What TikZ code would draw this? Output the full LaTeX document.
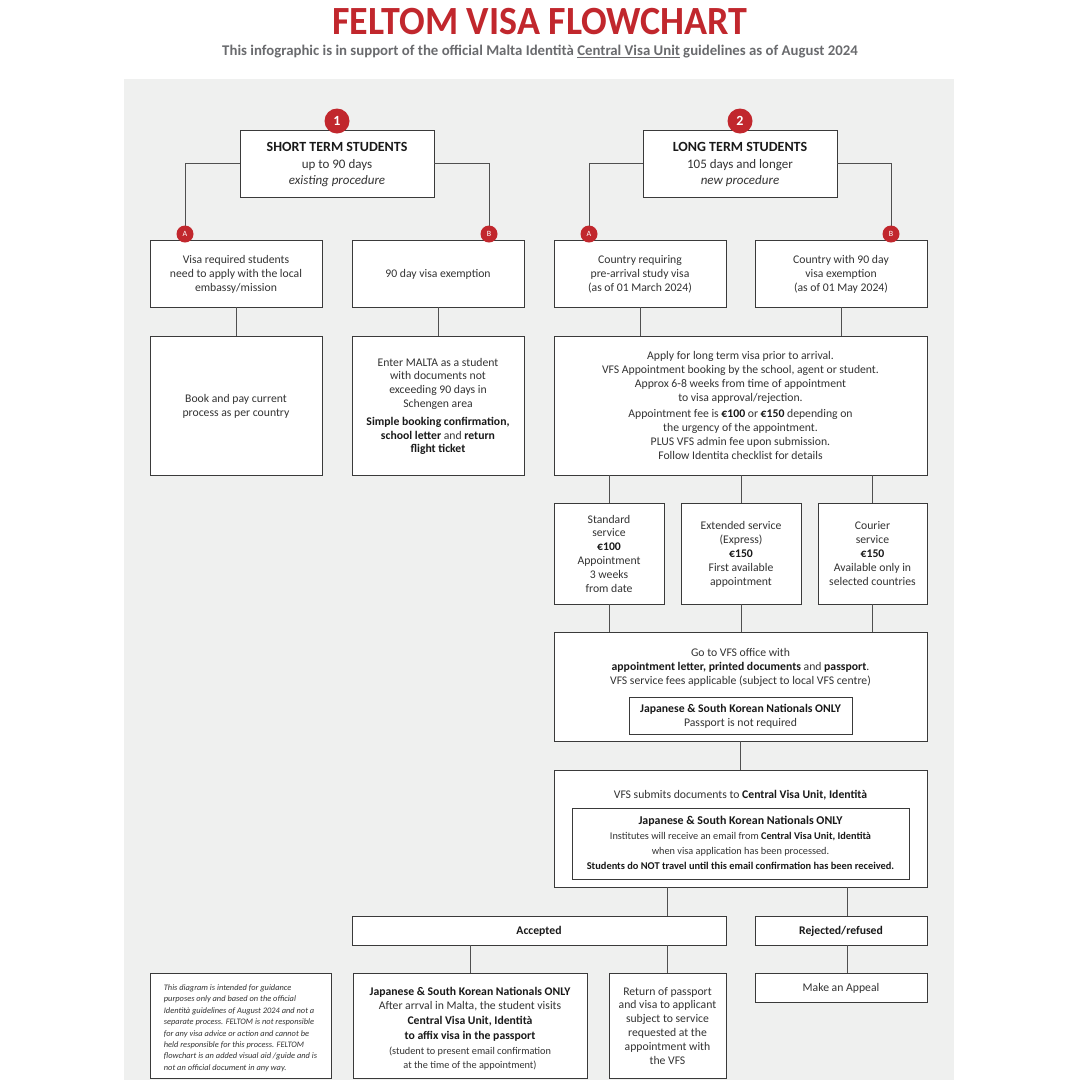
\documentclass[tikz,border=0pt]{standalone}
\usepackage{fontspec}
\usepackage{graphicx}
\setmainfont{Carlito}
\definecolor{fred}{HTML}{C1272D}
\definecolor{panel}{HTML}{EFF0EF}
\definecolor{boxc}{HTML}{3A3A3A}
\definecolor{linec}{HTML}{505050}
\definecolor{txt}{HTML}{333333}
\definecolor{subgrey}{HTML}{6A6B6E}
\begin{document}
\begin{tikzpicture}[x=1pt,y=-1pt,
  box/.style={draw=boxc, fill=white, line width=0.9pt, align=center, inner sep=0pt, text depth=0pt, text=txt, font=\fontsize{11.7}{13.8}\selectfont},
  tnode/.style={align=center, inner sep=0pt, text depth=0pt, text=txt, font=\fontsize{11.7}{13.8}\selectfont},
  conn/.style={draw=linec, line width=0.9pt},
  bigbadge/.style={circle, fill=fred, text=white, minimum size=25pt, inner sep=0pt, font=\bfseries\fontsize{14}{14}\selectfont},
  smallbadge/.style={circle, fill=fred, text=white, minimum size=17pt, inner sep=0pt, font=\fontsize{8}{8}\selectfont},
]
\useasboundingbox (0,0) rectangle (1080,1080);
\fill[white] (0,0) rectangle (1080,1080);
\fill[panel] (124,79) rectangle (954,1080);

% title
\node[text=fred, inner sep=0pt] (title) at (540,22) {\scalebox{0.95}[1]{\fontsize{40}{40}\selectfont\bfseries FELTOM VISA FLOWCHART}};
\node[text=subgrey, inner sep=0pt, font=\bfseries\fontsize{14.8}{16}\selectfont] (subtitle) at (540,51.5) {This infographic is in support of the official Malta Identità \underline{Central Visa Unit} guidelines as of August 2024};

% top boxes
\node[box, minimum width=194, minimum height=67, font=\fontsize{13}{16.5}\selectfont] (st) at (337,163.5) {{\bfseries\fontsize{14}{16.5}\selectfont\color{black!90}SHORT TERM STUDENTS}\\ up to 90 days\\ \textit{existing procedure}};
\node[box, minimum width=194, minimum height=67, font=\fontsize{13}{16.5}\selectfont] (lt) at (740,163.5) {{\bfseries\fontsize{14}{16.5}\selectfont\color{black!90}LONG TERM STUDENTS}\\ 105 days and longer\\ \textit{new procedure}};

% second row
\node[box, minimum width=172, minimum height=67] (a1) at (236,273.5) {Visa required students\\ need to apply with the local\\ embassy/mission};
\node[box, minimum width=172, minimum height=67] (b1) at (438,273.5) {90 day visa exemption};
\node[box, minimum width=172, minimum height=67] (a2) at (640,273.5) {Country requiring\\ pre-arrival study visa\\ (as of 01 March 2024)};
\node[box, minimum width=172, minimum height=67] (b2) at (841,273.5) {Country with 90 day\\ visa exemption\\ (as of 01 May 2024)};

% third row
\node[box, minimum width=172, minimum height=139] (book) at (236,405.5) {Book and pay current\\ process as per country};
\node[box, minimum width=172, minimum height=139] (enter) at (438,405.5) {Enter MALTA as a student\\ with documents not\\ exceeding 90 days in\\ Schengen area\\[4pt] {\bfseries\color{black!90}Simple booking confirmation,}\\ {\bfseries\color{black!90}school letter} and {\bfseries\color{black!90}return}\\ {\bfseries\color{black!90}flight ticket}};
\node[box, minimum width=373, minimum height=139] (apply) at (740.5,405.5) {Apply for long term visa prior to arrival.\\ VFS Appointment booking by the school, agent or student.\\ Approx 6-8 weeks from time of appointment\\ to visa approval/rejection.\\[3pt] Appointment fee is {\bfseries\color{black!90}€100} or {\bfseries\color{black!90}€150} depending on\\ the urgency of the appointment.\\ PLUS VFS admin fee upon submission.\\ Follow Identita checklist for details};

% services
\node[box, minimum width=110, minimum height=101] (std) at (609,553.5) {Standard\\ service\\ {\bfseries\color{black!90}€100}\\ Appointment\\ 3 weeks\\ from date};
\node[box, minimum width=120, minimum height=101] (ext) at (741,553.5) {Extended service\\ (Express)\\ {\bfseries\color{black!90}€150}\\ First available\\ appointment};
\node[box, minimum width=109, minimum height=101] (cour) at (872.5,553.5) {Courier\\ service\\ {\bfseries\color{black!90}€150}\\ Available only in\\ selected countries};

% VFS office
\node[box, minimum width=373, minimum height=109] (vfs) at (740.5,686.5) {};
\node[tnode] (vfstxt) at (740.5,666.5) {Go to VFS office with\\ {\bfseries\color{black!90}appointment letter, printed documents} and {\bfseries\color{black!90}passport}.\\ VFS service fees applicable (subject to local VFS centre)};
\node[box, minimum width=223, minimum height=37] (vfsin) at (740.5,715.5) {{\bfseries\color{black!90}Japanese \& South Korean Nationals ONLY}\\ Passport is not required};

% submission
\node[box, minimum width=373, minimum height=117] (sub) at (740.5,828.5) {};
\node[tnode] (subtxt) at (740.5,794) {VFS submits documents to {\bfseries\color{black!90}Central Visa Unit, Identità}};
\node[box, minimum width=337, minimum height=71] (subin) at (740.5,843.5) {};
\node[tnode, font=\bfseries\fontsize{11.9}{13}\selectfont, text=black!90] (subin1) at (740.5,820) {Japanese \& South Korean Nationals ONLY};
\node[tnode, font=\fontsize{10.3}{15}\selectfont] (subin2) at (740.5,843) {Institutes will receive an email from {\bfseries\color{black!90}Central Visa Unit, Identità}\\ when visa application has been processed.};
\node[tnode, font=\bfseries\fontsize{10.4}{11}\selectfont, text=black!90] (subin3) at (740.5,866) {Students do NOT travel until this email confirmation has been received.};

% outcomes
\node[box, minimum width=374, minimum height=29, font=\bfseries\fontsize{11.7}{13.5}\selectfont, text=black!90] (acc) at (539,930.5) {Accepted};
\node[box, minimum width=172, minimum height=29, font=\bfseries\fontsize{11.7}{13.5}\selectfont, text=black!90] (rej) at (841,930.5) {Rejected/refused};

% bottom row
\node[box, minimum width=234, minimum height=105] (jsk) at (470,1025.5) {};
\node[tnode] (jsktxt) at (470,1028) {{\bfseries\color{black!90}Japanese \& South Korean Nationals ONLY}\\ After arrval in Malta, the student visits\\[1pt] {\bfseries\color{black!90}Central Visa Unit, Identità}\\[1pt] {\bfseries\color{black!90}to affix visa in the passport}\\[2pt] {\fontsize{10.3}{15}\selectfont (student to present email confirmation}\\ {\fontsize{10.3}{15}\selectfont at the time of the appointment)}};
\node[box, minimum width=117, minimum height=105] (ret) at (667.5,1025.5) {Return of passport\\ and visa to applicant\\ subject to service\\ requested at the\\ appointment with\\ the VFS};
\node[box, minimum width=172, minimum height=29] (app) at (841,987.5) {Make an Appeal};
\node[box, minimum width=181, minimum height=105] (disc) at (240.5,1025.5) {};
\node[tnode, align=left, font=\itshape\fontsize{8.4}{11.4}\selectfont] (disctxt) at (240.5,1027.5) {This diagram is intended for guidance\\ purposes only and based on the official\\ Identità guidelines of August 2024 and not a\\ separate process. FELTOM is not responsible\\ for any visa advice or action and cannot be\\ held responsible for this process. FELTOM\\ flowchart is an added visual aid /guide and is\\ not an official document in any way.};

% connector points
\coordinate (ka1) at (185,240);
\coordinate (kb1) at (489,240);
\coordinate (ka2) at (589,240);
\coordinate (kb2) at (891,240);
\coordinate (rx) at (847,0);

% connectors
\draw[conn] (st.west) -| (ka1);
\draw[conn] (st.east) -| (kb1);
\draw[conn] (lt.west) -| (ka2);
\draw[conn] (lt.east) -| (kb2);
\draw[conn] (a1.south) -- (book.north);
\draw[conn] (b1.south) -- (enter.north);
\draw[conn] (a2.south) -- (a2.south |- apply.north);
\draw[conn] (b2.south) -- (b2.south |- apply.north);
\draw[conn] (std.north |- apply.south) -- (std.north);
\draw[conn] (ext.north |- apply.south) -- (ext.north);
\draw[conn] (cour.north |- apply.south) -- (cour.north);
\draw[conn] (std.south) -- (std.south |- vfs.north);
\draw[conn] (ext.south) -- (ext.south |- vfs.north);
\draw[conn] (cour.south) -- (cour.south |- vfs.north);
\draw[conn] (vfs.south) -- (sub.north);
\draw[conn] (ret.north |- sub.south) -- (ret.north |- acc.north);
\draw[conn] (rx |- sub.south) -- (rx |- rej.north);
\draw[conn] (jsk.north |- acc.south) -- (jsk.north);
\draw[conn] (ret.north |- acc.south) -- (ret.north);
\draw[conn] (rx |- rej.south) -- (rx |- app.north);

% badges
\node[bigbadge] (n1) at (337,121) {1};
\node[bigbadge] (n2) at (740,121) {2};
\node[smallbadge] (ba1) at (185,234) {A};
\node[smallbadge] (bb1) at (489,234) {B};
\node[smallbadge] (ba2) at (589,234) {A};
\node[smallbadge] (bb2) at (891,234) {B};
\end{tikzpicture}
\end{document}
